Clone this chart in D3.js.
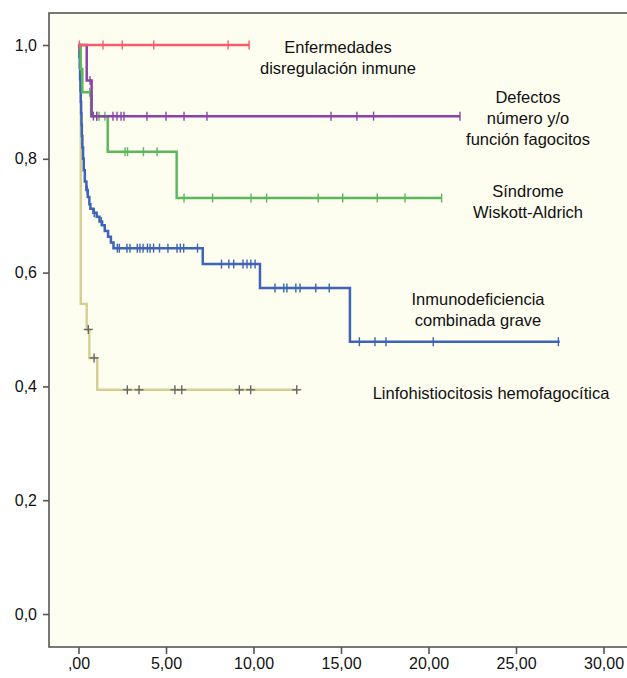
<!doctype html>
<html lang="es">
<head>
    <meta charset="UTF-8">
    <title>Supervivencia</title>
    <script src="https://cdnjs.cloudflare.com/ajax/libs/d3/7.8.5/d3.min.js"></script>
    <style>
        body { margin: 0; background: #ffffff; }
        text { font-family: "Liberation Sans", Arial, Helvetica, sans-serif; fill: #111; }
    </style>
</head>
<body>
<svg id="chart" width="627" height="678"></svg>

<script>
    // tiempo (años) y supervivencia acumulada
    var redSteps = [[0, 1], [9.75, 1]];
    var redCensor = [0.05, 1.4, 2.5, 4.3, 8.55, 9.75];

    var purpleSteps = [[0, 1], [0.47, 0.9375], [0.75, 0.875], [21.8, 0.875]];
    var purpleCensor = [[0.66, 0.9375], [0.85, 0.875], [1.04, 0.875], [1.97, 0.875], [2.2, 0.875],
        [2.43, 0.875], [2.6, 0.875], [3.91, 0.875], [5.0, 0.875], [6.03, 0.875], [7.34, 0.875],
        [14.43, 0.875], [15.91, 0.875], [16.86, 0.875], [21.8, 0.875]];

    var greenSteps = [[0, 1], [0.12, 0.958], [0.22, 0.917], [0.72, 0.875], [1.67, 0.8125],
        [5.61, 0.731], [20.75, 0.731]];
    var greenCensor = [[0.16, 0.958], [0.64, 0.917], [1.04, 0.875], [1.17, 0.875], [1.51, 0.875],
        [2.66, 0.8125], [2.8, 0.8125], [3.71, 0.8125], [4.49, 0.8125],
        [6.03, 0.731], [7.66, 0.731], [9.86, 0.731], [10.75, 0.731], [13.7, 0.731], [15.1, 0.731],
        [17.07, 0.731], [18.66, 0.731], [20.75, 0.731]];

    var blueSteps = [[0, 1], [0.05, 0.98], [0.07, 0.96], [0.09, 0.94], [0.11, 0.92], [0.13, 0.90],
        [0.15, 0.88], [0.17, 0.86], [0.19, 0.84], [0.22, 0.82], [0.26, 0.80], [0.30, 0.78],
        [0.36, 0.76], [0.45, 0.745], [0.53, 0.733], [0.62, 0.72], [0.68, 0.712], [0.85, 0.705],
        [1.04, 0.698], [1.2, 0.69], [1.35, 0.683], [1.5, 0.673], [1.69, 0.663], [1.85, 0.653],
        [2.0, 0.643], [7.1, 0.615], [10.37, 0.573], [15.51, 0.4786], [27.5, 0.4786]];
    var blueCensor = [[0.5, 0.745], [0.9, 0.705], [1.3, 0.69],
        [2.22, 0.643], [2.33, 0.643], [2.77, 0.643], [2.94, 0.643], [3.36, 0.643], [3.51, 0.643],
        [3.69, 0.643], [3.94, 0.643], [4.09, 0.643], [4.29, 0.643], [4.63, 0.643], [5.11, 0.643],
        [5.63, 0.643], [5.82, 0.643], [6.01, 0.643], [6.8, 0.643],
        [8.17, 0.615], [8.59, 0.615], [8.87, 0.615], [9.4, 0.615], [9.63, 0.615], [9.85, 0.615], [10.09, 0.615],
        [11.23, 0.573], [11.73, 0.573], [11.91, 0.573], [12.42, 0.573], [12.66, 0.573], [13.56, 0.573], [14.33, 0.573],
        [16.05, 0.4786], [16.94, 0.4786], [17.57, 0.4786], [20.27, 0.4786], [27.42, 0.4786]];

    var yellowSteps = [[0, 1], [0.13, 0.545], [0.47, 0.5], [0.62, 0.45], [1.07, 0.394], [12.47, 0.394]];
    var yellowCensor = [[0.56, 0.5], [0.89, 0.45], [2.79, 0.394], [3.46, 0.394], [5.51, 0.394],
        [5.9, 0.394], [9.19, 0.394], [9.84, 0.394], [12.47, 0.394]];

    var xTicks = [0, 5, 10, 15, 20, 25, 30];
    var yTicks = [0, 0.2, 0.4, 0.6, 0.8, 1.0];

    var labels = [
        {lines: ['Enfermedades', 'disregulación inmune'], x: 338, y: 53},
        {lines: ['Defectos', 'número y/o', 'función fagocitos'], x: 528, y: 103},
        {lines: ['Síndrome', 'Wiskott-Aldrich'], x: 528, y: 197},
        {lines: ['Inmunodeficiencia', 'combinada grave'], x: 478, y: 305},
        {lines: ['Linfohistiocitosis hemofagocítica'], x: 491, y: 399}
    ];

    var svg = d3.select('#chart');

    var x = d3.scaleLinear().domain([0, 30]).range([78.5, 603.5]);
    var y = d3.scaleLinear().domain([0, 1]).range([614, 45]);

    var frameL = 49, frameT = 13, frameR = 632, frameB = 647;

    svg.append('rect')
        .attr('x', frameL).attr('y', frameT)
        .attr('width', frameR - frameL).attr('height', frameB - frameT)
        .attr('fill', '#fdfdf0')
        .attr('stroke', '#555')
        .attr('stroke-width', 1.6);

    function comma(s) { return s.replace('.', ','); }

    var yAxis = d3.axisLeft(y).tickValues(yTicks).tickSize(6).tickPadding(6)
        .tickFormat(function (d) { return comma(d3.format('.1f')(d)); });
    var gy = svg.append('g').attr('transform', 'translate(' + frameL + ',0)').call(yAxis);

    var xAxis = d3.axisBottom(x).tickValues(xTicks).tickSize(7).tickPadding(4)
        .tickFormat(function (d) {
            var s = comma(d3.format('.2f')(d));
            return d === 0 ? s.slice(1) : s;
        });
    var gx = svg.append('g').attr('transform', 'translate(0,' + frameB + ')').call(xAxis);

    [gx, gy].forEach(function (g) {
        g.select('.domain').remove();
        g.selectAll('line').attr('stroke', '#555').attr('stroke-width', 1.6);
        g.selectAll('text').style('font-size', '16px')
            .style('font-family', '"Liberation Sans", Arial, sans-serif').attr('fill', '#111');
    });

    var line = d3.line()
        .x(function (d) { return x(d[0]); })
        .y(function (d) { return y(d[1]); })
        .curve(d3.curveStepAfter);

    function drawCurve(steps, censor, color) {
        svg.append('path')
            .datum(steps)
            .attr('d', line)
            .attr('fill', 'none')
            .attr('stroke', color)
            .attr('stroke-width', 2.5);

        svg.append('g').selectAll('line')
            .data(censor)
            .enter().append('line')
            .attr('x1', function (d) { return x(d[0]); })
            .attr('x2', function (d) { return x(d[0]); })
            .attr('y1', function (d) { return y(d[1]) - 4.5; })
            .attr('y2', function (d) { return y(d[1]) + 4.5; })
            .attr('stroke', color)
            .attr('stroke-width', 1.4);
    }

    // Linfohistiocitosis: línea clara, cruces grises
    svg.append('path')
        .datum(yellowSteps)
        .attr('d', line)
        .attr('fill', 'none')
        .attr('stroke', '#d6cf93')
        .attr('stroke-width', 2.4);

    var yc = svg.append('g').selectAll('g')
        .data(yellowCensor)
        .enter().append('g')
        .attr('transform', function (d) { return 'translate(' + x(d[0]) + ',' + y(d[1]) + ')'; });
    yc.append('line').attr('x1', -4.5).attr('x2', 4.5).attr('y1', 0).attr('y2', 0)
        .attr('stroke', '#666').attr('stroke-width', 1.4);
    yc.append('line').attr('x1', 0).attr('x2', 0).attr('y1', -4.5).attr('y2', 4.5)
        .attr('stroke', '#666').attr('stroke-width', 1.4);

    drawCurve(blueSteps, blueCensor, '#3d64b8');
    drawCurve(greenSteps, greenCensor, '#5cb85a');
    drawCurve(purpleSteps, purpleCensor, '#8a44a8');
    drawCurve(redSteps, redCensor.map(function (t) { return [t, 1]; }), '#f65d6a');

    labels.forEach(function (l) {
        var t = svg.append('text')
            .attr('text-anchor', 'middle')
            .style('font-size', '16.5px');
        l.lines.forEach(function (s, i) {
            t.append('tspan').attr('x', l.x).attr('y', l.y + i * 21).text(s);
        });
    });
</script>
</body>
</html>
